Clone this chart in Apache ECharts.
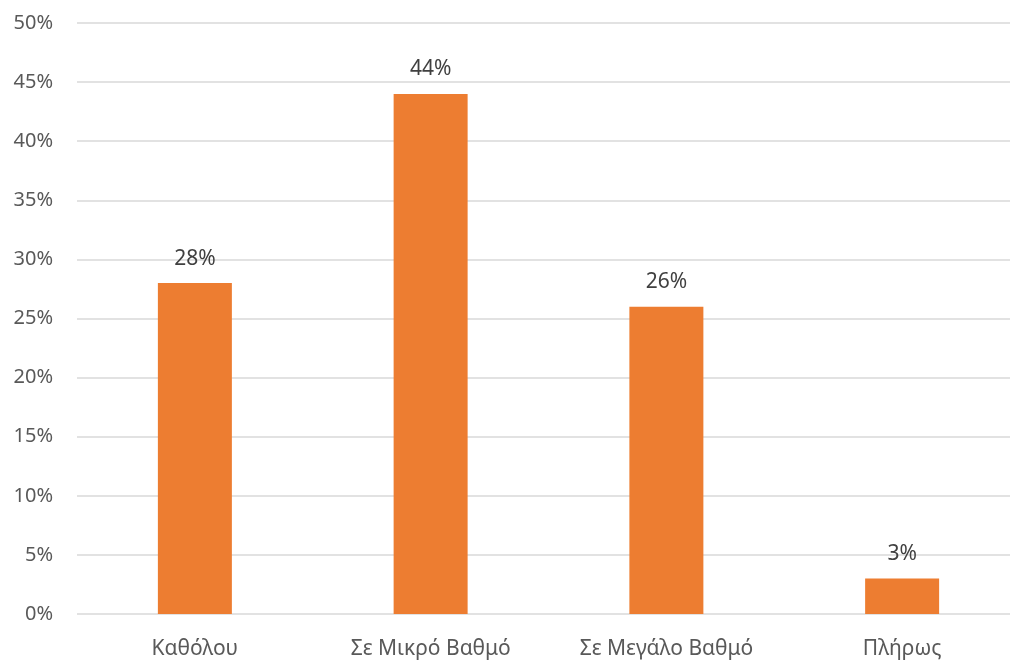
<!DOCTYPE html>
<html>
<head>
<meta charset="utf-8">
<style>html,body{margin:0;padding:0;background:#fff;overflow:hidden;width:1010px;height:661px;}#c{width:1021px;height:661px;}</style>
<script src="https://cdn.jsdelivr.net/npm/echarts@6/dist/echarts.min.js"></script>
</head>
<body>
<div id="c"></div>
<script>
const categories = ["Καθόλου", "Σε Μικρό Βαθμό", "Σε Μεγάλο Βαθμό", "Πλήρως"];
const values = [28, 44, 26, 3];
const yMin = 0, yMax = 50, yStep = 5;

const chart = echarts.init(document.getElementById('c'));
chart.setOption({
  animation: false,
  backgroundColor: '#ffffff',
  grid: { left: 77, top: 23, right: 1, bottom: 47, containLabel: false },
  xAxis: {
    type: 'category',
    data: categories,
    axisLine: { show: false },
    axisTick: { show: false },
    axisLabel: { color: '#595959', fontSize: 21, fontFamily: 'Noto Sans', margin: 25 }
  },
  yAxis: {
    type: 'value',
    min: yMin, max: yMax, interval: yStep,
    axisLine: { show: false },
    axisTick: { show: false },
    splitLine: { lineStyle: { color: '#D9D9D9', width: 1.5 } },
    axisLabel: { color: '#595959', fontSize: 20, fontFamily: 'Noto Sans', margin: 24, formatter: v => v + '%' }
  },
  series: [{
    type: 'bar',
    data: values,
    barWidth: 74,
    itemStyle: { color: '#ED7D31' },
    label: {
      show: true, position: 'top', distance: 14,
      color: '#404040', fontSize: 21, fontFamily: 'Noto Sans',
      formatter: p => p.value + '%'
    }
  }]
});
</script>
</body>
</html>
